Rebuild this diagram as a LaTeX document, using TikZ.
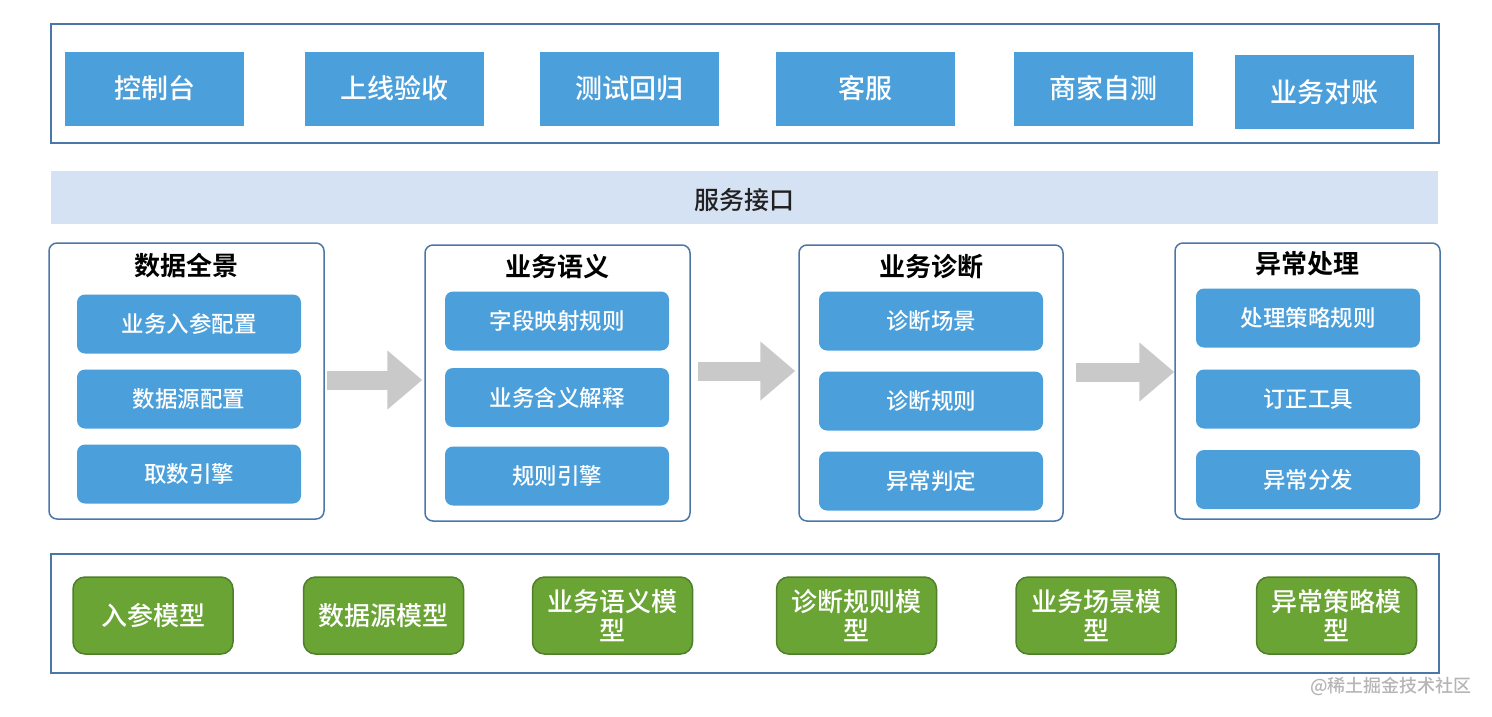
\documentclass[tikz,border=0pt]{standalone}
\usepackage{fontspec}
\setmainfont{Noto Sans CJK SC}[UprightFont={* Medium}, BoldFont={* Bold}]
\usepackage{tikz}
\usetikzlibrary{arrows.meta}

\definecolor{boxblue}{HTML}{4B9FDB}
\definecolor{framblue}{HTML}{4A76A8}
\definecolor{bandblue}{HTML}{D5E2F3}
\definecolor{modgreen}{HTML}{6AA434}
\definecolor{modedge}{HTML}{4F7F2A}
\definecolor{flowgray}{HTML}{C9C9C9}
\definecolor{markgray}{HTML}{B5B5B5}

\tikzset{
	frame/.style={draw=framblue, line width=1.5pt, inner sep=0pt},
	client/.style={fill=boxblue, text=white, minimum width=179pt, minimum height=74pt, inner sep=0pt, font=\fontsize{27pt}{30pt}\selectfont},
	stage/.style={frame, rounded corners=8pt, minimum height=276pt},
	stagetitle/.style={font=\fontsize{26pt}{30pt}\selectfont\bfseries, text=black},
	item/.style={fill=boxblue, text=white, rounded corners=8pt, minimum width=224pt, minimum height=59pt, inner sep=0pt, font=\fontsize{22.5pt}{26pt}\selectfont},
	model/.style={draw=modedge, line width=1.5pt, fill=modgreen, text=white, rounded corners=12pt, minimum width=160pt, minimum height=77pt, inner sep=0pt, align=center, font=\fontsize{26pt}{29pt}\selectfont},
	flow/.style={draw=flowgray, line width=19pt, -{Triangle[length=35pt,width=57pt]}}
}

\begin{document}
\begin{tikzpicture}[x=1pt, y=-1pt]
	
	\useasboundingbox (0,0) rectangle (1492,716);
	
	% clients
	\node[frame, minimum width=1388pt, minimum height=119pt] (top) at (745,83.5) {};
	\node[client] (console) at (154.5,88.5) {控制台};
	\node[client] (accept) at (394.5,88.5) {上线验收};
	\node[client] (regress) at (629,88.5) {测试回归};
	\node[client] (service) at (865,88.5) {客服};
	\node[client] (merchant) at (1103,88.5) {商家自测};
	\node[client] (reconcile) at (1324,92) {业务对账};
	
	% interface
	\node[fill=bandblue, minimum width=1387pt, minimum height=53pt, inner sep=0pt] (api) at (744.5,197.5) {};
	\node[text=black!87, font=\fontsize{25pt}{28pt}\selectfont] (apilabel) at ([yshift=-2.5pt]api.center) {服务接口};
	
	% stages
	\node[stage, minimum width=275pt] (data) at (186.5,381) {};
	\node[stage, minimum width=265pt] (sem) at (557.5,383) {};
	\node[stage, minimum width=264pt] (diag) at (931,383) {};
	\node[stage, minimum width=265pt] (exc) at (1307.5,381) {};
	
	\node[stagetitle] (datatitle) at ([yshift=-23pt]data.north) {数据全景};
	\node[stagetitle] (semtitle) at ([yshift=-22pt]sem.north) {业务语义};
	\node[stagetitle] (diagtitle) at ([yshift=-22pt]diag.north) {业务诊断};
	\node[stagetitle] (exctitle) at ([yshift=-21pt]exc.north) {异常处理};
	
	\node[item] (d1) at (189,324) {业务入参配置};
	\node[item] (d2) at (189,399) {数据源配置};
	\node[item] (d3) at (189,474) {取数引擎};
	
	\node[item] (s1) at (557,321) {字段映射规则};
	\node[item] (s2) at (557,397.5) {业务含义解释};
	\node[item] (s3) at (557,476) {规则引擎};
	
	\node[item] (g1) at (931,321) {诊断场景};
	\node[item] (g2) at (931,401) {诊断规则};
	\node[item] (g3) at (931,481) {异常判定};
	
	\node[item] (e1) at (1308,318) {处理策略规则};
	\node[item] (e2) at (1308,399) {订正工具};
	\node[item] (e3) at (1308,479.5) {异常分发};
	
	\draw[flow, shorten <=2pt, shorten >=2pt] ([yshift=1pt]data.east) -- ([yshift=1pt]data.east -| sem.west);
	\draw[flow, shorten <=7pt, shorten >=3pt] ([yshift=12pt]sem.east) -- ([yshift=12pt]sem.east -| diag.west);
	\draw[flow, shorten <=12pt] ([yshift=11pt]diag.east) -- ([yshift=11pt]diag.east -| exc.west);
	
	% models
	\node[frame, minimum width=1388pt, minimum height=119pt] (bottom) at (745,613.5) {};
	\node[model] (m1) at (153,615.5) {入参模型};
	\node[model] (m2) at (383.5,615.5) {数据源模型};
	\node[model] (m3) at (612.5,615.5) {业务语义模\\型};
	\node[model] (m4) at (856.5,615.5) {诊断规则模\\型};
	\node[model] (m5) at (1096,615.5) {业务场景模\\型};
	\node[model] (m6) at (1336.5,615.5) {异常策略模\\型};
	
	\node[anchor=east, inner sep=0pt, text=markgray, font=\fontsize{18pt}{20pt}\selectfont] (mark) at (1472,686) {@稀土掘金技术社区};
	
\end{tikzpicture}
\end{document}
